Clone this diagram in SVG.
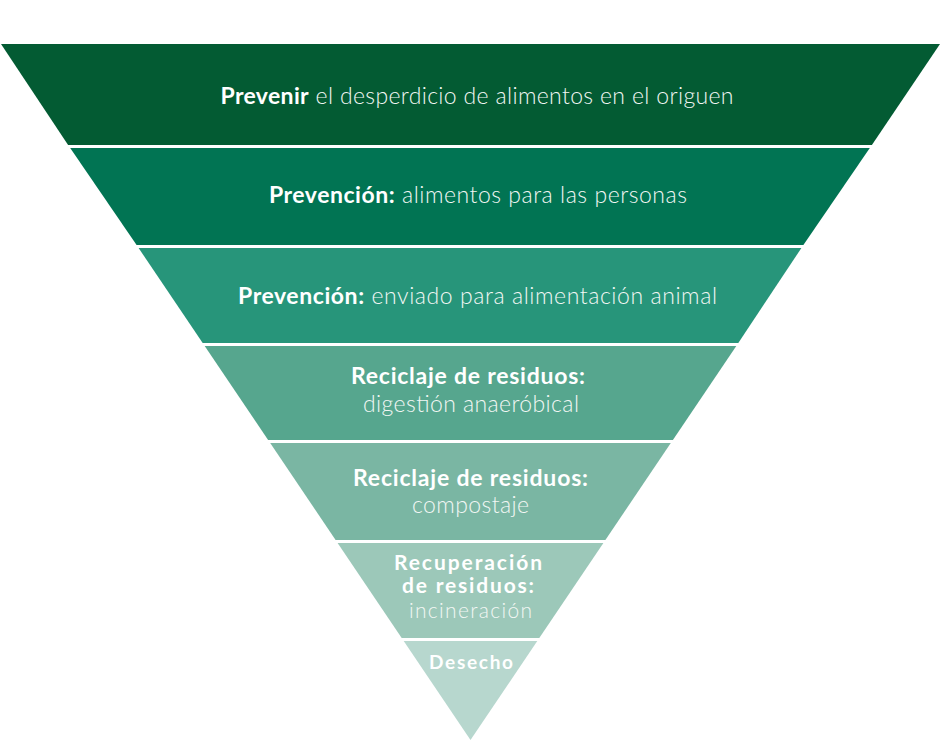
<svg xmlns="http://www.w3.org/2000/svg" width="940" height="743" viewBox="0 0 940 743">
<style>
text{font-family:Lato,"Open Sans","Liberation Sans",sans-serif;fill:#ffffff;text-anchor:middle;font-size:23px}
.b{font-weight:700}
.l{font-weight:300;fill:#f2f7f4}
.m{font-size:21px}
.s{font-size:19px}
</style>
<rect width="940" height="743" fill="#ffffff"/>
<g id="nivel1">
<polygon points="1,44 940,44 871.9,145 68.1,145" fill="#035b33"/>
<text x="477" y="104" textLength="513" lengthAdjust="spacing"><tspan class="b">Prevenir</tspan><tspan class="l"> el desperdicio de alimentos en el origuen</tspan></text>
</g>
<g id="nivel2">
<polygon points="70.2,148 869.8,148 803.4,245 136.6,245" fill="#017453"/>
<text x="478" y="203" textLength="418" lengthAdjust="spacing"><tspan class="b">Prevención:</tspan><tspan class="l"> alimentos para las personas</tspan></text>
</g>
<g id="nivel3">
<polygon points="138.6,248 801.4,248 738.3,343 202.7,343" fill="#27957a"/>
<text x="477.5" y="304" textLength="479" lengthAdjust="spacing"><tspan class="b">Prevención:</tspan><tspan class="l"> enviado para alimentación animal</tspan></text>
</g>
<g id="nivel4">
<polygon points="204.7,346 736.3,346 672.9,440 268.1,440" fill="#56a68e"/>
<text class="b" x="468" y="384" textLength="234" lengthAdjust="spacing">Reciclaje de residuos:</text>
<text class="l" x="471" y="412" textLength="216" lengthAdjust="spacing">digestión anaeróbical</text>
</g>
<g id="nivel5">
<polygon points="270.2,443 670.8,443 605.4,540 335.6,540" fill="#7ab6a3"/>
<text class="b" x="470.5" y="486" textLength="235" lengthAdjust="spacing">Reciclaje de residuos:</text>
<text class="l" x="470.5" y="513" textLength="117" lengthAdjust="spacing">compostaje</text>
</g>
<g id="nivel6">
<polygon points="337.6,543 603.4,543 539.3,638 401.7,638" fill="#9cc8b9"/>
<text class="b m" x="468" y="570" textLength="148" lengthAdjust="spacing">Recuperación</text>
<text class="b m" x="468" y="593" textLength="132" lengthAdjust="spacing">de residuos:</text>
<text class="l m" x="470.5" y="618" textLength="123" lengthAdjust="spacing">incineración</text>
</g>
<g id="nivel7">
<polygon points="403.7,641 537.3,641 470.5,740" fill="#b7d7ce"/>
<text class="b s" x="471" y="669" textLength="84" lengthAdjust="spacing">Desecho</text>
</g>
</svg>
